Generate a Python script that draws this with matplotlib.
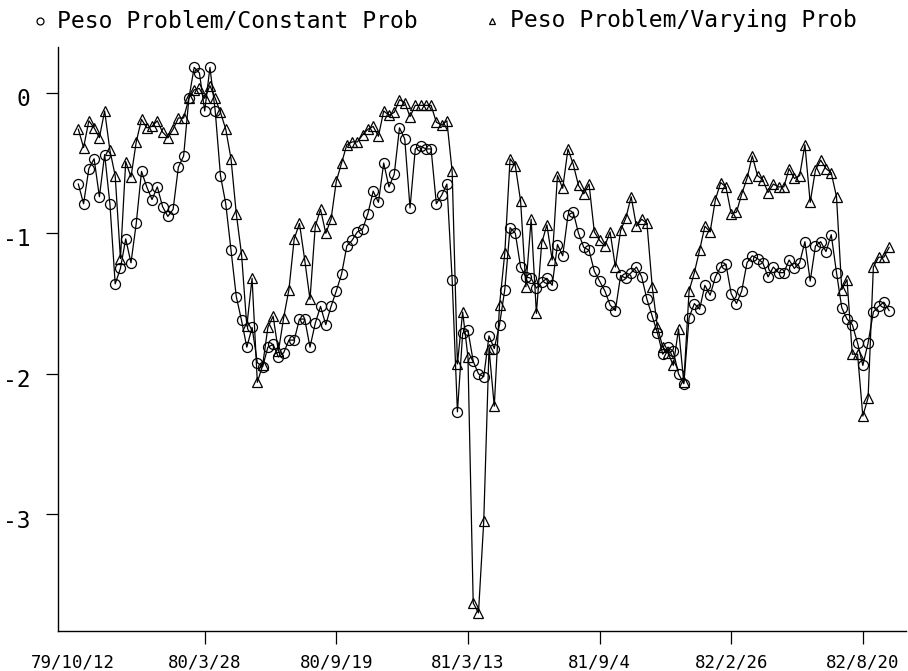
import numpy as np
import matplotlib
matplotlib.use("Agg")
import matplotlib.pyplot as plt
from matplotlib.lines import Line2D
from matplotlib.transforms import ScaledTranslation

# ===============================================================
# Data (weekly observations, read off the chart)
# ===============================================================
const_prob = [
    -0.65, -0.79, -0.54, -0.47, -0.74, -0.44, -0.79, -1.36, -1.25, -1.04,
    -1.21, -0.93, -0.56, -0.67, -0.76, -0.67, -0.81, -0.88, -0.83, -0.53,
    -0.45, -0.04, 0.18, 0.14, -0.13, 0.18, -0.13, -0.59, -0.79, -1.12,
    -1.45, -1.62, -1.81, -1.67, -1.92, -1.95, -1.81, -1.79, -1.88, -1.85,
    -1.76, -1.76, -1.61, -1.61, -1.81, -1.64, -1.52, -1.65, -1.52, -1.41,
    -1.29, -1.09, -1.05, -0.99, -0.97, -0.86, -0.70, -0.78, -0.50, -0.67,
    -0.58, -0.25, -0.33, -0.82, -0.40, -0.38, -0.40, -0.40, -0.79, -0.73,
    -0.65, -1.33, -2.27, -1.71, -1.69, -1.91, -2.00, -2.02, -1.73, -1.82,
    -1.65, -1.40, -0.96, -1.00, -1.24, -1.31, -1.32, -1.39, -1.35, -1.32,
    -1.37, -1.08, -1.16, -0.87, -0.85, -1.00, -1.10, -1.12, -1.27, -1.34,
    -1.41, -1.51, -1.55, -1.30, -1.32, -1.28, -1.24, -1.31, -1.47, -1.59,
    -1.71, -1.86, -1.81, -1.84, -2.00, -2.07, -1.60, -1.50, -1.54, -1.37,
    -1.44, -1.31, -1.24, -1.22, -1.43, -1.50, -1.41, -1.21, -1.16, -1.18,
    -1.21, -1.31, -1.24, -1.28, -1.28, -1.19, -1.25, -1.21, -1.06, -1.34,
    -1.09, -1.06, -1.13, -1.01, -1.28, -1.53, -1.61, -1.65, -1.78, -1.94,
    -1.78, -1.56, -1.52, -1.49, -1.55,
]

vary_prob = [
    -0.26, -0.39, -0.20, -0.25, -0.32, -0.13, -0.41, -0.59, -1.18, -0.49,
    -0.60, -0.35, -0.19, -0.25, -0.24, -0.20, -0.28, -0.32, -0.26, -0.18,
    -0.18, -0.04, 0.02, 0.03, -0.04, 0.05, -0.04, -0.14, -0.26, -0.47,
    -0.86, -1.15, -1.66, -1.32, -2.06, -1.94, -1.67, -1.59, -1.84, -1.60,
    -1.40, -1.04, -0.93, -1.19, -1.47, -0.95, -0.83, -1.00, -0.90, -0.63,
    -0.50, -0.37, -0.35, -0.35, -0.30, -0.26, -0.24, -0.31, -0.13, -0.16,
    -0.14, -0.05, -0.07, -0.17, -0.09, -0.09, -0.09, -0.09, -0.21, -0.23,
    -0.20, -0.56, -1.93, -1.56, -1.88, -3.63, -3.70, -3.05, -1.82, -2.23,
    -1.51, -1.14, -0.47, -0.52, -0.77, -1.38, -0.90, -1.57, -1.07, -0.94,
    -1.19, -0.59, -0.68, -0.40, -0.51, -0.66, -0.72, -0.65, -0.99, -1.05,
    -1.09, -0.99, -1.24, -0.98, -0.89, -0.74, -0.95, -0.90, -0.93, -1.38,
    -1.67, -1.81, -1.85, -1.94, -1.68, -2.06, -1.41, -1.28, -1.12, -0.95,
    -0.99, -0.76, -0.64, -0.67, -0.86, -0.85, -0.72, -0.61, -0.45, -0.59,
    -0.62, -0.71, -0.65, -0.67, -0.67, -0.54, -0.61, -0.59, -0.37, -0.78,
    -0.55, -0.48, -0.54, -0.57, -0.74, -1.40, -1.33, -1.86, -1.86, -2.30,
    -2.17, -1.24, -1.17, -1.17, -1.10,
]

tick_obs = [0, 25, 50, 75, 100, 125, 150]
tick_labels = ["79/10/12", "80/3/28", "80/9/19", "81/3/13", "81/9/4", "82/2/26", "82/8/20"]
y_ticks = [0, -1, -2, -3]

obs = np.arange(1, len(const_prob) + 1)

# ===============================================================
# Figure + layout
# ===============================================================
DPI = 100
fig = plt.figure(figsize=(908 / DPI, 671 / DPI), dpi=DPI)
fig.patch.set_facecolor("white")

ax = fig.add_axes([58 / 908, 40 / 671, 848 / 908, 584 / 671])

LABEL_FONT = "DejaVu Sans Mono"

ax.plot(obs, const_prob, color="black", lw=0.9, marker="o", ms=7.2,
        mfc="none", mec="black", mew=0.9)
ax.plot(obs, vary_prob, color="black", lw=0.9, marker="^", ms=7.0,
        mfc="none", mec="black", mew=0.9)

ax.set_xlim(-2.86, 158.2)
ax.set_ylim(-3.829, 0.325)

for side in ("top", "right"):
    ax.spines[side].set_visible(False)
for side in ("left", "bottom"):
    ax.spines[side].set_linewidth(1.0)

ax.set_xticks(tick_obs)
ax.set_xticklabels(tick_labels, fontfamily=LABEL_FONT, fontsize=12.5)
ax.set_yticks(y_ticks)
ax.set_yticklabels([str(v) if v == 0 else f"-{abs(v)}" for v in y_ticks],
                   fontfamily=LABEL_FONT, fontsize=16.5)
ax.tick_params(axis="x", direction="out", length=9.5, width=0.9, pad=7)
ax.tick_params(axis="y", direction="out", length=9, width=0.9, pad=11)

# y labels sit a touch below their ticks in the original
shift = ScaledTranslation(0, -3 / 72, fig.dpi_scale_trans)
for lab in ax.get_yticklabels():
    lab.set_transform(lab.get_transform() + shift)

# first date sits left of the data, no tick mark in the original
ax.xaxis.get_major_ticks()[0].tick1line.set_visible(False)

# ===============================================================
# Legend (row of markers + text above the plot)
# ===============================================================
leg_y = 1 - 21 / 671
fig.add_artist(Line2D([40 / 908], [leg_y], marker="o", ms=5, mfc="none",
                      mec="black", mew=0.9, ls="none", transform=fig.transFigure))
fig.text(57 / 908, leg_y, "Peso Problem/Constant Prob", ha="left", va="center",
         fontfamily=LABEL_FONT, fontsize=16.6)
fig.add_artist(Line2D([492 / 908], [leg_y], marker="^", ms=5, mfc="none",
                      mec="black", mew=0.9, ls="none", transform=fig.transFigure))
fig.text(510 / 908, leg_y, "Peso Problem/Varying Prob", ha="left", va="center",
         fontfamily=LABEL_FONT, fontsize=16.6)

fig.savefig("out.png", dpi=DPI, facecolor="white")
